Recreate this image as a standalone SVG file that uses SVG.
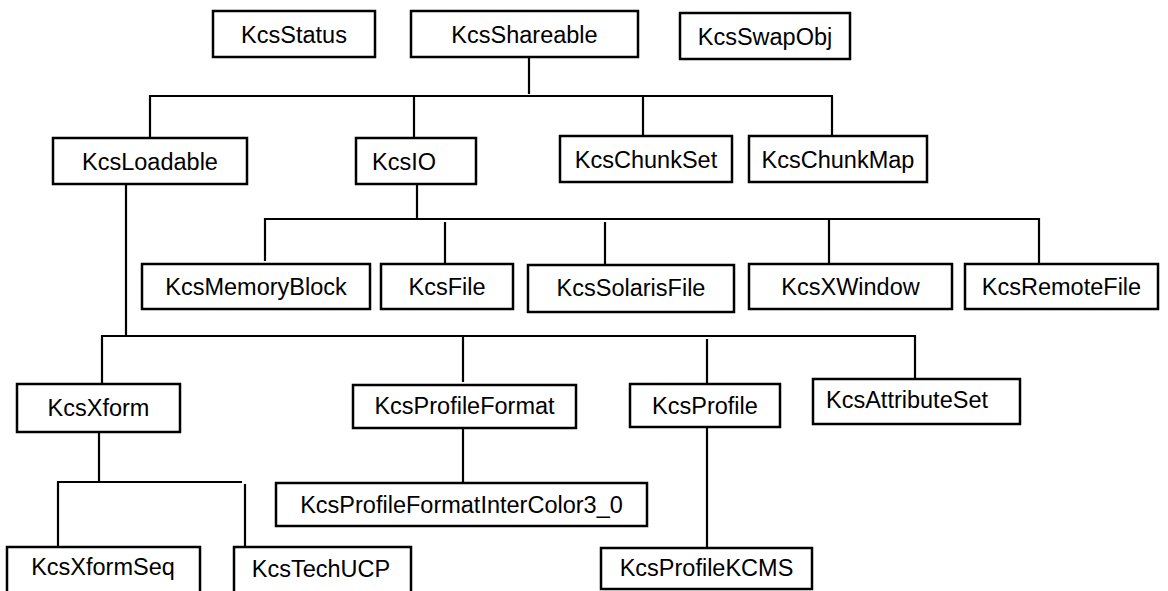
<svg xmlns="http://www.w3.org/2000/svg" width="1168" height="591" viewBox="0 0 1168 591">
<style>
.box{fill:#fff;stroke:#000;stroke-width:2.5}
.lbl{font-family:"Liberation Sans",Arial,Helvetica,sans-serif;font-size:23.5px;fill:#000;text-anchor:middle}
.con line{stroke:#000;stroke-width:2.2;stroke-linecap:butt}
</style>
<rect width="1168" height="591" fill="#fff"/>
<g id="connectors" class="con">
<line x1="529" y1="57" x2="529" y2="94"/>
<line x1="149" y1="96" x2="833" y2="96"/>
<line x1="150" y1="95" x2="150" y2="138"/>
<line x1="414" y1="96" x2="414" y2="138"/>
<line x1="643" y1="96" x2="643" y2="136"/>
<line x1="832" y1="97" x2="832" y2="136"/>
<line x1="417" y1="184" x2="417" y2="219"/>
<line x1="264" y1="219" x2="1040" y2="219"/>
<line x1="265" y1="218" x2="265" y2="261"/>
<line x1="445" y1="222" x2="445" y2="264"/>
<line x1="605" y1="222" x2="605" y2="265"/>
<line x1="829" y1="219" x2="829" y2="264"/>
<line x1="1039" y1="218" x2="1039" y2="264"/>
<line x1="126" y1="184" x2="126" y2="336"/>
<line x1="101" y1="336" x2="916" y2="336"/>
<line x1="102" y1="335" x2="102" y2="384"/>
<line x1="463" y1="336" x2="463" y2="382"/>
<line x1="707" y1="339" x2="707" y2="383"/>
<line x1="915" y1="335" x2="915" y2="379"/>
<line x1="99" y1="432" x2="99" y2="482"/>
<line x1="57" y1="482" x2="242" y2="482"/>
<line x1="58" y1="481" x2="58" y2="547"/>
<line x1="245" y1="484" x2="245" y2="547"/>
<line x1="463" y1="428" x2="463" y2="483"/>
<line x1="707" y1="427" x2="707" y2="548"/>
</g>
<g id="KcsStatus"><rect class="box" x="213" y="11" width="162" height="46"/><text class="lbl" x="294" y="42.5">KcsStatus</text></g>
<g id="KcsShareable"><rect class="box" x="411" y="11" width="227" height="46"/><text class="lbl" x="524.5" y="42.5">KcsShareable</text></g>
<g id="KcsSwapObj"><rect class="box" x="680" y="13" width="170" height="46"/><text class="lbl" x="765" y="44.5">KcsSwapObj</text></g>
<g id="KcsLoadable"><rect class="box" x="53" y="138" width="194" height="46"/><text class="lbl" x="150" y="169.5">KcsLoadable</text></g>
<g id="KcsIO"><rect class="box" x="356" y="138" width="120" height="46"/><text class="lbl" x="404" y="169.5">KcsIO</text></g>
<g id="KcsChunkSet"><rect class="box" x="560" y="136" width="172" height="46"/><text class="lbl" x="646" y="167.5">KcsChunkSet</text></g>
<g id="KcsChunkMap"><rect class="box" x="749" y="136" width="178" height="46"/><text class="lbl" x="838" y="167.5">KcsChunkMap</text></g>
<g id="KcsMemoryBlock"><rect class="box" x="142" y="264" width="228" height="45"/><text class="lbl" x="256" y="295">KcsMemoryBlock</text></g>
<g id="KcsFile"><rect class="box" x="381" y="264" width="132" height="45"/><text class="lbl" x="447" y="295">KcsFile</text></g>
<g id="KcsSolarisFile"><rect class="box" x="528" y="265" width="206" height="47"/><text class="lbl" x="631" y="296">KcsSolarisFile</text></g>
<g id="KcsXWindow"><rect class="box" x="749" y="264" width="203" height="45"/><text class="lbl" x="850.5" y="295">KcsXWindow</text></g>
<g id="KcsRemoteFile"><rect class="box" x="965" y="264" width="193" height="45"/><text class="lbl" x="1061.5" y="295">KcsRemoteFile</text></g>
<g id="KcsXform"><rect class="box" x="17" y="384" width="163" height="48"/><text class="lbl" x="98.5" y="416">KcsXform</text></g>
<g id="KcsProfileFormat"><rect class="box" x="353" y="385" width="223" height="43"/><text class="lbl" x="464.5" y="414">KcsProfileFormat</text></g>
<g id="KcsProfile"><rect class="box" x="630" y="384" width="150" height="43"/><text class="lbl" x="705" y="414">KcsProfile</text></g>
<g id="KcsAttributeSet"><rect class="box" x="813" y="379" width="207" height="45"/><text class="lbl" x="907" y="408">KcsAttributeSet</text></g>
<g id="KcsProfileFormatInterColor3_0"><rect class="box" x="276" y="483" width="371" height="43"/><text class="lbl" x="461.5" y="512.5">KcsProfileFormatInterColor3_0</text></g>
<g id="KcsXformSeq"><rect class="box" x="7" y="547" width="193" height="60"/><text class="lbl" x="103" y="575">KcsXformSeq</text></g>
<g id="KcsTechUCP"><rect class="box" x="234" y="547" width="177" height="60"/><text class="lbl" x="321" y="577">KcsTechUCP</text></g>
<g id="KcsProfileKCMS"><rect class="box" x="601" y="548" width="211" height="41"/><text class="lbl" x="706.5" y="576">KcsProfileKCMS</text></g>
</svg>
